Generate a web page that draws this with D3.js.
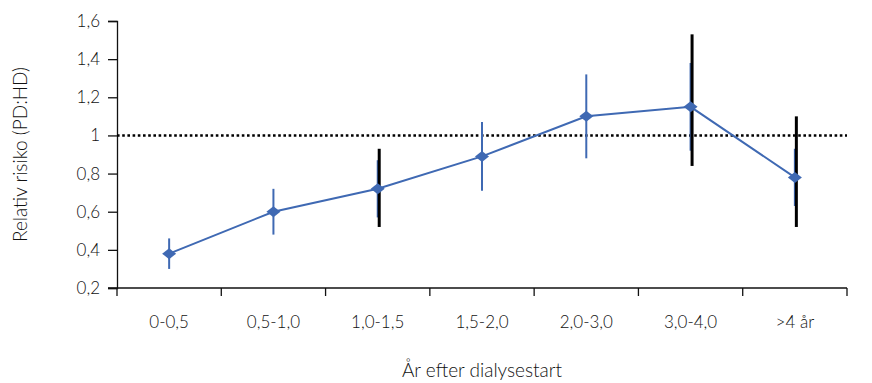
<!DOCTYPE html>
<html>
<head>
<meta charset="utf-8">
<script src="https://cdn.jsdelivr.net/npm/d3@7"></script>
<style>
  body { margin: 0; background: #fff; }
  text { font-family: Lato, "Open Sans", sans-serif; font-weight: 300; fill: #111; }
</style>
</head>
<body>
<figure id="chart" style="margin:0"></figure>
<script>
const categories = ["0-0,5", "0,5-1,0", "1,0-1,5", "1,5-2,0", "2,0-3,0", "3,0-4,0", ">4 år"];
const rr = [0.38, 0.60, 0.72, 0.89, 1.10, 1.15, 0.78];
const blueLow = [0.30, 0.48, 0.57, 0.71, 0.88, 0.92, 0.63];
const blueHigh = [0.46, 0.72, 0.87, 1.07, 1.32, 1.38, 0.93];
// second (black) interval only for three groups
const blackCats = ["1,0-1,5", "3,0-4,0", ">4 år"];
const blackLow = [0.52, 0.84, 0.52];
const blackHigh = [0.93, 1.53, 1.10];
const yTicks = [0.2, 0.4, 0.6, 0.8, 1, 1.2, 1.4, 1.6];

const width = 872, height = 383;
const margin = { left: 117, right: 25, top: 21, bottom: 95 };
const blue = "#3f69b3";

const svg = d3.select("figure#chart")
  .append("svg")
  .attr("width", width)
  .attr("height", height);

const x = d3.scaleBand()
  .domain(categories)
  .range([margin.left, width - margin.right]);

const y = d3.scaleLinear()
  .domain([0.2, 1.6])
  .range([height - margin.bottom, margin.top]);

const fmt = d => String(d).replace(".", ",");

// y axis
const yAxis = svg.append("g")
  .attr("transform", "translate(" + margin.left + ",0)")
  .call(d3.axisLeft(y).tickValues(yTicks).tickFormat(fmt).tickSize(9).tickPadding(8));
yAxis.select(".domain").attr("stroke", "#111").attr("stroke-width", 1.3);
yAxis.selectAll(".tick line").attr("stroke", "#111").attr("stroke-width", 1.3);
yAxis.selectAll("text").style("font-size", "17px").attr("fill", "#111");

// x axis, ticks on band edges
const xAxis = svg.append("g")
  .attr("transform", "translate(0," + y(0.2) + ")");
xAxis.append("line")
  .attr("x1", margin.left - 9).attr("x2", width - margin.right)
  .attr("stroke", "#111").attr("stroke-width", 1.3);
const edges = categories.map(c => x(c)).concat([x(categories[categories.length - 1]) + x.bandwidth()]);
xAxis.selectAll("line.edge")
  .data(edges)
  .enter().append("line")
  .attr("class", "edge")
  .attr("x1", d => d).attr("x2", d => d)
  .attr("y1", 0).attr("y2", 8)
  .attr("stroke", "#111").attr("stroke-width", 1.3);
xAxis.selectAll("text")
  .data(categories)
  .enter().append("text")
  .attr("x", d => x(d) + x.bandwidth() / 2)
  .attr("y", 40)
  .attr("text-anchor", "middle")
  .style("font-size", "17px")
  .text(d => d);

// reference line at 1
svg.append("line")
  .attr("x1", margin.left).attr("x2", width - margin.right)
  .attr("y1", y(1)).attr("y2", y(1))
  .attr("stroke", "#000").attr("stroke-width", 2.6)
  .attr("stroke-dasharray", "2.6,2.6");

const cx = c => x(c) + x.bandwidth() / 2;

// blue error bars
svg.selectAll("line.blueci")
  .data(categories)
  .enter().append("line")
  .attr("class", "blueci")
  .attr("x1", d => cx(d)).attr("x2", d => cx(d))
  .attr("y1", (d, i) => y(blueLow[i]))
  .attr("y2", (d, i) => y(blueHigh[i]))
  .attr("stroke", blue).attr("stroke-width", 2);

// line
svg.append("path")
  .datum(categories)
  .attr("d", d3.line().x(d => cx(d)).y((d, i) => y(rr[i])))
  .attr("fill", "none")
  .attr("stroke", blue).attr("stroke-width", 2);

// black error bars
svg.selectAll("line.blackci")
  .data(blackCats)
  .enter().append("line")
  .attr("class", "blackci")
  .attr("x1", d => cx(d) + 1.5).attr("x2", d => cx(d) + 1.5)
  .attr("y1", (d, i) => y(blackLow[i]))
  .attr("y2", (d, i) => y(blackHigh[i]))
  .attr("stroke", "#000").attr("stroke-width", 3);

// diamond markers
svg.selectAll("path.marker")
  .data(categories)
  .enter().append("path")
  .attr("class", "marker")
  .attr("d", "M-7,0L0,-5.5L7,0L0,5.5Z")
  .attr("transform", (d, i) => "translate(" + cx(d) + "," + y(rr[i]) + ")")
  .attr("fill", blue);

// titles
svg.append("text")
  .attr("transform", "translate(27," + y(0.9) + ") rotate(-90)")
  .attr("text-anchor", "middle")
  .style("font-size", "19px")
  .text("Relativ risiko (PD:HD)");

svg.append("text")
  .attr("x", (margin.left + width - margin.right) / 2)
  .attr("y", 377)
  .attr("text-anchor", "middle")
  .style("font-size", "19px")
  .text("År efter dialysestart");
</script>
</body>
</html>
